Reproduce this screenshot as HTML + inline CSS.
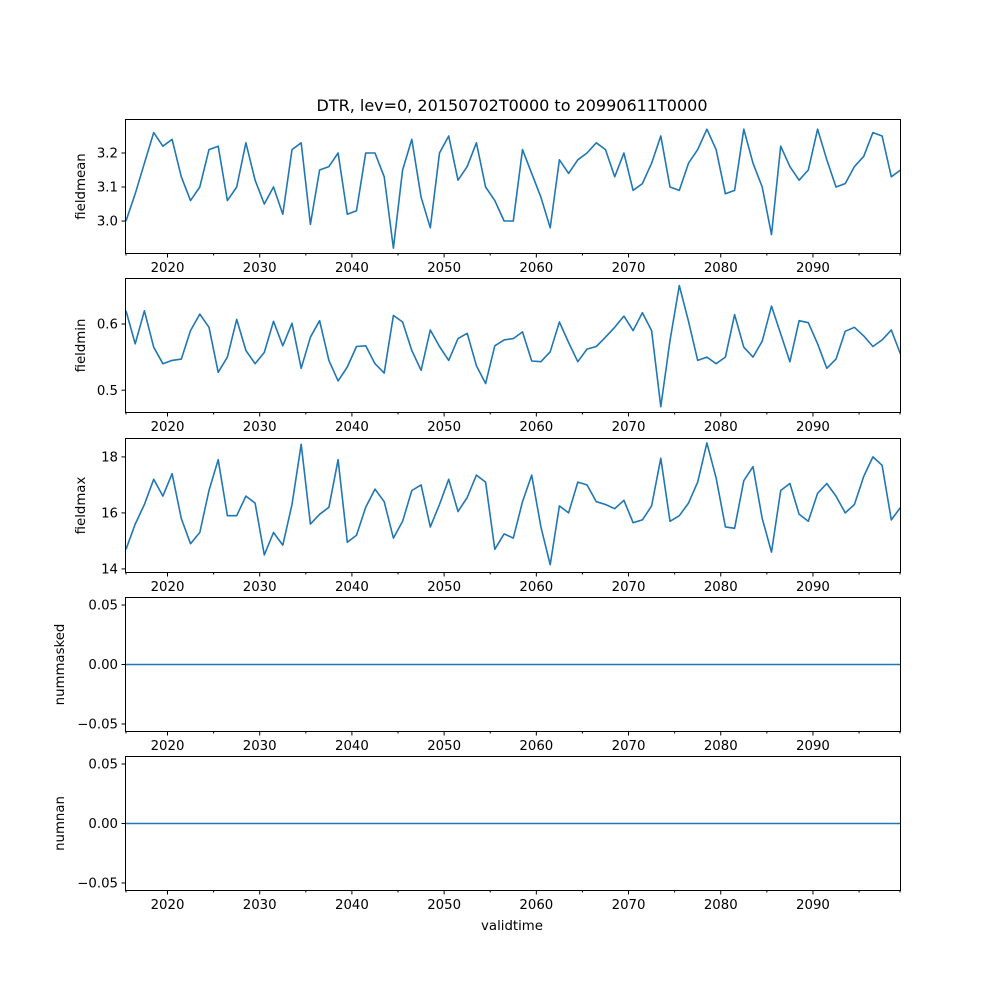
<!DOCTYPE html>
<html><head><meta charset="utf-8"><style>
body{margin:0;background:#fff;}
svg{display:block;font-family:"DejaVu Sans","Liberation Sans",sans-serif;}
</style></head><body>
<svg id="chart" width="1000" height="1000" viewBox="0 0 1000 1000"></svg>
<script>
const years = Array.from({length:85},(_,k)=>2015+k);
const fieldmean = [3.00,3.08,3.17,3.26,3.22,3.24,3.13,3.06,3.10,3.21,3.22,3.06,3.10,3.23,3.12,3.05,3.10,3.02,3.21,3.23,2.99,3.15,3.16,3.20,3.02,3.03,3.20,3.20,3.13,2.92,3.15,3.24,3.07,2.98,3.20,3.25,3.12,3.16,3.23,3.10,3.06,3.00,3.00,3.21,3.14,3.07,2.98,3.18,3.14,3.18,3.20,3.23,3.21,3.13,3.20,3.09,3.11,3.17,3.25,3.10,3.09,3.17,3.21,3.27,3.21,3.08,3.09,3.27,3.17,3.10,2.96,3.22,3.16,3.12,3.15,3.27,3.18,3.10,3.11,3.16,3.19,3.26,3.25,3.13,3.15];
const fieldmin = [0.62,0.57,0.62,0.565,0.54,0.545,0.547,0.59,0.615,0.595,0.527,0.55,0.607,0.56,0.54,0.557,0.604,0.567,0.601,0.533,0.58,0.605,0.545,0.514,0.535,0.566,0.567,0.54,0.526,0.613,0.603,0.56,0.53,0.591,0.566,0.545,0.578,0.586,0.537,0.51,0.567,0.576,0.578,0.588,0.544,0.543,0.558,0.603,0.572,0.543,0.562,0.566,0.58,0.595,0.612,0.59,0.617,0.59,0.475,0.575,0.658,0.604,0.545,0.55,0.54,0.55,0.614,0.565,0.55,0.574,0.627,0.585,0.543,0.605,0.602,0.57,0.533,0.547,0.589,0.595,0.582,0.566,0.576,0.591,0.554];
const fieldmax = [14.7,15.6,16.3,17.2,16.6,17.4,15.8,14.9,15.3,16.8,17.9,15.9,15.9,16.6,16.35,14.5,15.3,14.85,16.3,18.45,15.6,15.95,16.2,17.9,14.95,15.2,16.2,16.85,16.4,15.1,15.7,16.8,17.0,15.5,16.3,17.2,16.05,16.55,17.35,17.1,14.7,15.25,15.1,16.4,17.35,15.5,14.15,16.25,16.0,17.1,17.0,16.4,16.3,16.15,16.45,15.65,15.75,16.25,17.95,15.7,15.9,16.35,17.1,18.5,17.25,15.5,15.45,17.15,17.65,15.8,14.6,16.8,17.05,15.95,15.7,16.7,17.05,16.6,16.0,16.3,17.3,18.0,17.7,15.75,16.2];
const nummasked = years.map(()=>0);
const numnan = years.map(()=>0);
const xTicks = [2020,2030,2040,2050,2060,2070,2080,2090];
const xMinor = [2025,2035,2045,2055,2065,2075,2085,2095];
const panelNames = ["fieldmean","fieldmin","fieldmax","nummasked","numnan"];
const panelTops = [120,279,439,598,757];
const panelDomains = [[2.906,3.297],[0.467,0.668],[13.89,18.64],[-0.0559,0.0559],[-0.0559,0.0559]];
const panelTicks = [[3.0,3.1,3.2],[0.5,0.6],[14,16,18],[-0.05,0,0.05],[-0.05,0,0.05]];
const panelTickLabels = [["3.0","3.1","3.2"],["0.5","0.6"],["14","16","18"],["−0.05","0.00","0.05"],["−0.05","0.00","0.05"]];
const series = [fieldmean,fieldmin,fieldmax,nummasked,numnan];

const NS="http://www.w3.org/2000/svg";
const svg=document.getElementById('chart');
const L=126,R=900,H=133;
const x0=2015.5,x1=2099.44;
const xs=t=>L+(t-x0)/(x1-x0)*(R-L);
function mk(tag,attrs,parent){const e=document.createElementNS(NS,tag);for(const k in attrs)e.setAttribute(k,attrs[k]);(parent||svg).appendChild(e);return e;}

const title=mk('text',{x:512,y:111,'text-anchor':'middle','font-size':'16'});


title.textContent='DTR, lev=0, 20150702T0000 to 20990611T0000';

panelNames.forEach((name,p)=>{
  const top=panelTops[p],bot=top+H;
  const [d0,d1]=panelDomains[p];
  const ys=v=>bot-(v-d0)/(d1-d0)*H;
  const g=mk('g',{});
  
  
  const pts=series[p].map((v,i)=>xs(years[i]+0.5).toFixed(1)+','+ys(v).toFixed(1)).join(' ');
  const line=mk('polyline',{points:pts,fill:'none',stroke:'#1f77b4','stroke-width':'1.6','stroke-linejoin':'round'},g);
  
  
  const frame=mk('rect',{x:L-0.5,y:top-0.5,width:R-L+1,height:H+1,fill:'none',stroke:'#000','stroke-width':'1'},g);
  
  
  xTicks.forEach(t=>{
    const X=xs(t);
    mk('line',{x1:X,y1:bot,x2:X,y2:bot+4.5,stroke:'#000'},g);
    const tl=mk('text',{x:X,y:bot+19,'text-anchor':'middle','font-size':'13.3'},g);
    
    
    tl.textContent=t;
  });
  xMinor.concat([x0,x1]).forEach(t=>{const X=xs(t);mk('line',{x1:X,y1:bot,x2:X,y2:bot+2.5,stroke:'#000'},g);});
  panelTicks[p].forEach((v,i)=>{
    const Y=ys(v);
    mk('line',{x1:L-4.5,y1:Y,x2:L,y2:Y,stroke:'#000'},g);
    const yl=mk('text',{x:L-8,y:Y+4.7,'text-anchor':'end','font-size':'13.3'},g);
    
    
    yl.textContent=panelTickLabels[p][i];
  });
  const lx = p<3 ? 85 : 64;
  const yt=mk('text',{x:lx,y:top+H/2,'text-anchor':'middle','font-size':'13.3',transform:`rotate(-90 ${lx} ${top+H/2})`},g);
  
  
  yt.textContent=name;
});
const xt=mk('text',{x:512,y:930,'text-anchor':'middle','font-size':'13.3'});


xt.textContent='validtime';
</script>
</body></html>
